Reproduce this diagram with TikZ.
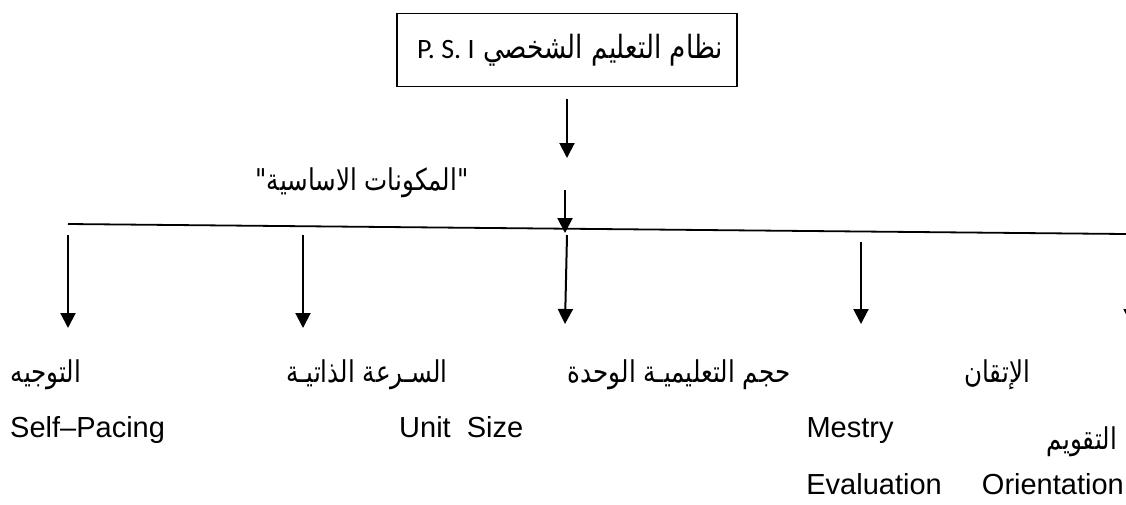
\documentclass[tikz,border=0pt]{standalone}
\usepackage{fontspec}
\setmainfont{Liberation Sans}
\newfontfamily\arabicfont[Script=Arabic,FakeStretch=0.82]{DejaVu Sans}
\newfontfamily\boxlatin{Carlito}
\TeXXeTstate=1
\usetikzlibrary{arrows.meta,positioning}

\begin{document}
\begin{tikzpicture}[
  x=1pt, y=-1pt,
  ar/.style={font=\arabicfont\fontsize{30}{32}\selectfont, inner sep=0pt, anchor=base},
  en/.style={font=\fontsize{29}{32}\selectfont, inner sep=0pt, anchor=base},
  arr/.style={-{Triangle[length=15pt,width=15pt]}, line width=2pt},
]
\clip (0,0) rectangle (1126,504);
% top box
\node[draw, line width=1.3pt, minimum width=340pt, minimum height=73pt, inner sep=0pt] (psi) at (567,50) {};
\node[ar, font=\arabicfont\fontsize{32}{34}\selectfont] (psitext) at (570,58)
  {\beginR نظام التعليم الشخصي \beginL{\boxlatin\fontsize{28}{30}\selectfont P. S. I}\endL\endR};
\coordinate (psiout) at (567,99);
\coordinate (mida) at (567,158);
\node[ar] (core) at (362,190) {\beginR "المكونات الاساسية"\endR};
\coordinate (midb) at (565,190);
\coordinate (midc) at (565,233);
\draw[arr] (psiout) -- (mida);
\draw[arr] (midb) -- (midc);

% branch line
\coordinate (lnl) at (68,224);
\coordinate (lnr) at (1126,234);
\draw[line width=1.8pt] (lnl) -- (lnr);

% branch arrows
\coordinate (a1) at (68,235);   \coordinate (b1) at (68,328);
\coordinate (a2) at (303,235);  \coordinate (b2) at (303,328);
\coordinate (a3) at (567,235);  \coordinate (b3) at (565,324);
\coordinate (a4) at (861,242);  \coordinate (b4) at (861,324);
\coordinate (a5) at (1131,290); \coordinate (b5) at (1131,324);
\foreach \i in {1,...,5} \draw[arr] (a\i) -- (b\i);

% labels, first row
\node[ar] (orient) at (46,382) {\beginR التوجيه\endR};
\node[ar] (pace) at (367,382) {\beginR السـرعة الذاتيـة\endR};
\node[ar] (unit) at (679,382) {\beginR حجم التعليميـة الوحدة\endR};
\node[ar] (mast) at (997,382) {\beginR الإتقان\endR};
% second row
\node[en, anchor=base west] (paceen) at (10,437) {Self–Pacing};
\node[en, anchor=base west] (uniten) at (399,437) {Unit\ \ Size};
\node[en] (masten) at (850,437) {Mestry};
\node[ar] (eval) at (1082,449) {\beginR التقويم\endR};
% third row
\node[en, anchor=base east] (evalen) at (942,494) {Evaluation};
\node[en, anchor=base east] (orienten) at (1124,494) {Orientation};
\end{tikzpicture}
\end{document}
